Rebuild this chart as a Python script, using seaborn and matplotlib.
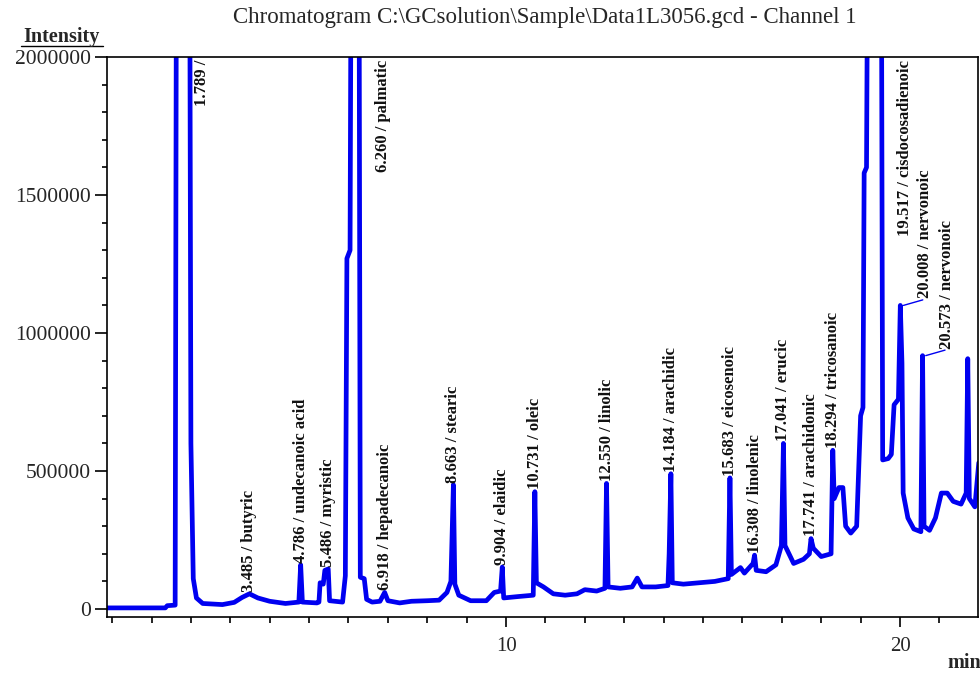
import numpy as np
import pandas as pd
import matplotlib
matplotlib.use("Agg")
import matplotlib.pyplot as plt
from matplotlib.lines import Line2D
from matplotlib.ticker import MultipleLocator, FixedLocator
import seaborn as sns

# Detector trace: retention time (min) and detector response
rt_min = [
    -0.15, 1.35, 1.40, 1.60, 1.64, 1.96, 2.00, 2.06, 2.14, 2.30,
    2.80, 3.10, 3.30, 3.485, 3.70, 4.00, 4.40, 4.74, 4.786, 4.83,
    5.20, 5.25, 5.28, 5.36, 5.40, 5.486, 5.52, 5.85, 5.92, 5.96,
    6.04, 6.08, 6.26, 6.30, 6.40, 6.46, 6.60, 6.80, 6.918, 7.00,
    7.30, 7.60, 8.00, 8.30, 8.50, 8.60, 8.663, 8.70, 8.80, 9.10,
    9.50, 9.70, 9.86, 9.904, 9.94, 10.30, 10.69, 10.731, 10.77, 10.95,
    11.20, 11.50, 11.80, 12.00, 12.30, 12.51, 12.550, 12.59, 12.90, 13.20,
    13.33, 13.45, 13.80, 14.11, 14.14, 14.184, 14.22, 14.50, 14.90, 15.30,
    15.64, 15.683, 15.72, 15.95, 16.05, 16.27, 16.308, 16.35, 16.60, 16.85,
    16.99, 17.041, 17.08, 17.30, 17.55, 17.70, 17.741, 17.80, 18.00, 18.25,
    18.294, 18.33, 18.45, 18.55, 18.62, 18.75, 18.90, 19.00, 19.06, 19.09,
    19.15, 19.20, 19.517, 19.56, 19.70, 19.78, 19.85, 19.96, 20.008, 20.05,
    20.08, 20.20, 20.35, 20.53, 20.573, 20.61, 20.75, 20.90, 21.05, 21.20,
    21.35, 21.55, 21.68, 21.72, 21.76, 21.90, 22.00,
]
intensity = [
    4000, 4000, 12000, 14000, 3000000, 3000000, 600000, 110000, 40000, 20000,
    16000, 24000, 42000, 55000, 40000, 28000, 20000, 25000, 160000, 25000,
    22000, 25000, 95000, 90000, 140000, 145000, 30000, 25000, 120000, 1270000,
    1300000, 3000000, 3000000, 115000, 110000, 35000, 25000, 28000, 60000, 30000,
    22000, 28000, 30000, 32000, 60000, 100000, 450000, 90000, 50000, 30000,
    30000, 60000, 65000, 152000, 40000, 45000, 50000, 425000, 95000, 80000,
    55000, 50000, 55000, 70000, 65000, 75000, 455000, 80000, 75000, 80000,
    112000, 80000, 80000, 85000, 200000, 490000, 95000, 90000, 95000, 100000,
    110000, 475000, 125000, 150000, 130000, 165000, 195000, 140000, 135000, 160000,
    230000, 600000, 230000, 165000, 180000, 200000, 255000, 220000, 190000, 200000,
    575000, 400000, 440000, 440000, 300000, 275000, 300000, 700000, 730000, 1580000,
    1600000, 3000000, 3000000, 540000, 545000, 560000, 740000, 760000, 1100000, 890000,
    420000, 330000, 290000, 280000, 918000, 300000, 285000, 330000, 420000, 420000,
    390000, 380000, 420000, 907000, 400000, 370000, 530000,
]

# Identified peaks
peak_rt = [1.789, 3.485, 4.786, 5.486, 6.260, 6.918, 8.663, 9.904, 10.731,
           12.550, 14.184, 15.683, 16.308, 17.041, 17.741, 18.294, 19.517,
           20.008, 20.573]
peak_name = ["", "butyric", "undecanoic acid", "myristic", "palmatic",
             "hepadecanoic", "stearic", "elaidic", "oleic", "linolic",
             "arachidic", "eicosenoic", "linolenic", "erucic", "arachidonic",
             "tricosanoic", "cisdocosadienoic", "nervonoic", "nervonoic"]
leader_peaks = [20.008, 20.573]

y_ticks = [0, 500000, 1000000, 1500000, 2000000]
x_ticks = [10, 20]

title = "Chromatogram C:\\GCsolution\\Sample\\Data1L3056.gcd - Channel 1"

BLUE = "#0000f0"
W, H = 980, 675

sns.set_theme(style="ticks")
plt.rcParams["font.family"] = ["Liberation Serif", "DejaVu Serif"]
plt.rcParams["axes.linewidth"] = 1.2

fig = plt.figure(figsize=(W / 100, H / 100), dpi=100)
ax = fig.add_axes([107 / W, 1 - 617 / H, (978 - 107) / W, (617 - 57) / H])

trace = pd.DataFrame({"rt": rt_min, "intensity": intensity})
sns.lineplot(data=trace, x="rt", y="intensity", ax=ax, color=BLUE, lw=3.4,
             sort=False, estimator=None, legend=False)

ymax = 2000000
ax.set_xlim(-0.13, 21.98)
ax.set_ylim(-29000, ymax)
ax.set_xlabel("")
ax.set_ylabel("")

for s in ax.spines.values():
    s.set_visible(True)
    s.set_color("black")

ax.xaxis.set_major_locator(FixedLocator(x_ticks))
ax.xaxis.set_minor_locator(MultipleLocator(1))
ax.set_xticklabels([str(t) for t in x_ticks])
ax.yaxis.set_major_locator(FixedLocator(y_ticks))
ax.yaxis.set_minor_locator(MultipleLocator(100000))
ax.set_yticklabels([str(t) for t in y_ticks])
ax.tick_params(axis="x", which="major", length=7.5, width=1.2, pad=7,
               labelsize=15, color="black")
ax.tick_params(axis="x", which="minor", length=4.5, width=1.2, color="black")
ax.tick_params(axis="y", which="major", length=8.5, width=1.2, pad=3,
               labelsize=15.5, color="black")
ax.tick_params(axis="y", which="minor", length=3.5, width=1.2, color="black")

# Peak annotations
for rt, name in zip(peak_rt, peak_name):
    apex = float(np.interp(rt, trace["rt"], trace["intensity"]))
    label = f"{rt:.3f} / {name}".rstrip()
    kw = dict(rotation=90, fontsize=12, fontweight="bold", color="#111111",
              ha="center", clip_on=False)
    if rt in leader_peaks:
        lx, ly = rt + 0.62, apex + 25000
        ax.plot([rt + 0.08, lx - 0.05], [apex, ly - 5000], color=BLUE, lw=1.0)
        ax.text(lx, ly, label, va="bottom", **kw)
    elif apex > ymax:
        shift = 0.5 if rt < 2 else 0.62
        ax.text(rt + shift, ymax - 11000, label, va="top", **kw)
    else:
        ax.text(rt, apex + 8000, label, va="bottom", **kw)

fig.text(545 / W, 1 - 17 / H, title, ha="center", va="center", fontsize=16.5)
fig.text(62 / W, 1 - 37 / H, "Intensity", ha="center", va="center",
         fontsize=14.5, fontweight="bold")
fig.add_artist(Line2D([21 / W, 103 / W], [1 - 45.5 / H] * 2, color="black",
                      lw=1.0))
fig.text(964 / W, 1 - 663 / H, "min", ha="center", va="center", fontsize=14.5,
         fontweight="bold")

fig.savefig("out.png", dpi=100, facecolor="white")
